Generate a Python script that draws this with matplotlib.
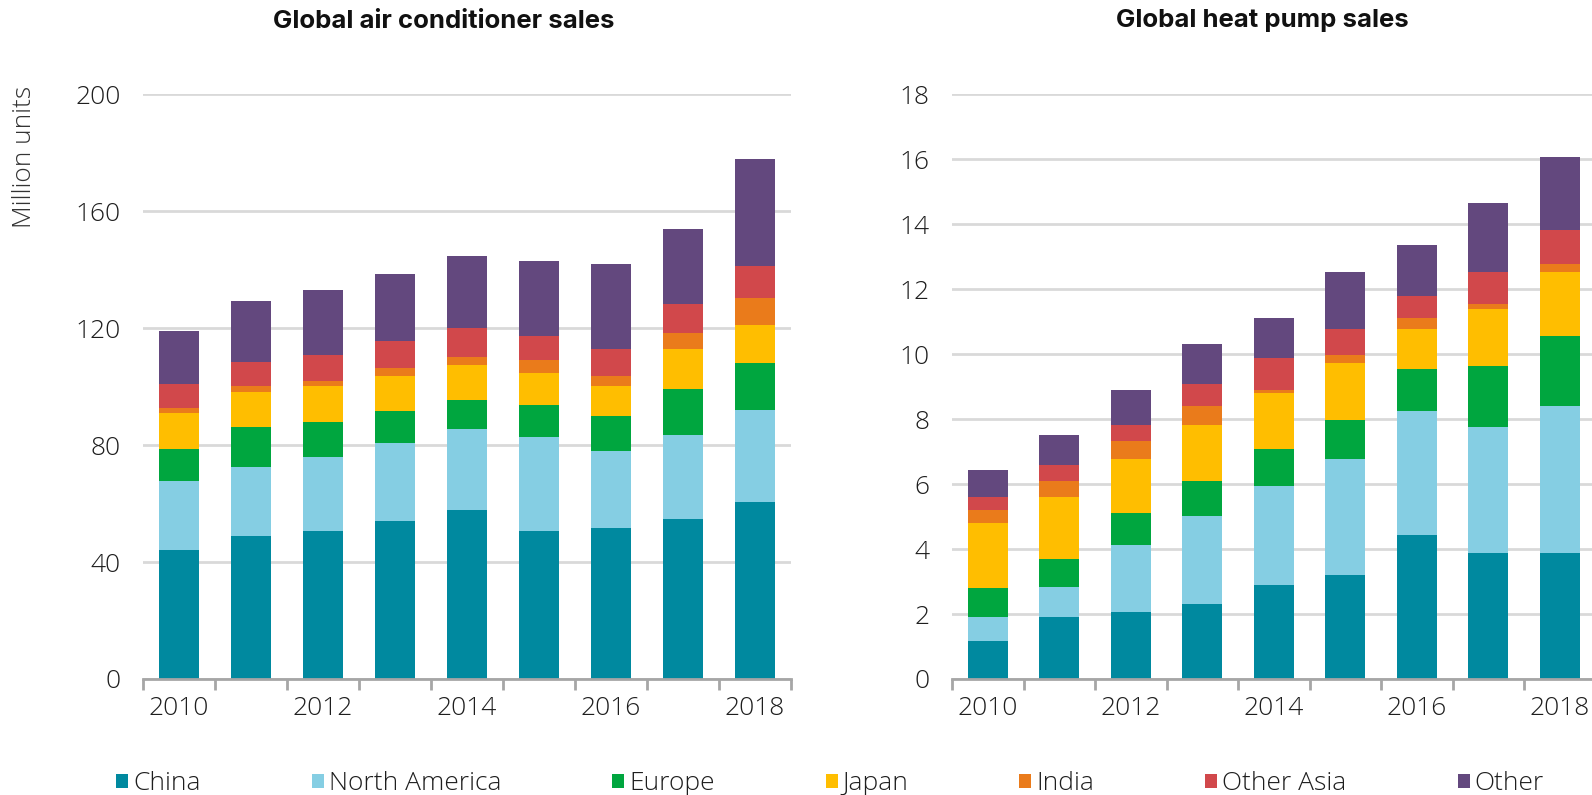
import matplotlib
matplotlib.use("Agg")
import matplotlib.pyplot as plt
from matplotlib import font_manager as fm
from matplotlib.patches import Patch
import numpy as np

years = [2010, 2011, 2012, 2013, 2014, 2015, 2016, 2017, 2018]
tick_years = ["2010", "2012", "2014", "2016", "2018"]
regions = ["China", "North America", "Europe", "Japan", "India", "Other Asia", "Other"]
colors = ["#00899F", "#85CEE3", "#00A63F", "#FFBE00", "#EA7B1B", "#D1484B", "#63487E"]

# Global air conditioner sales (million units)
ac_china = [44.0, 48.8, 50.5, 54.1, 57.7, 50.5, 51.5, 54.9, 60.6]
ac_north_america = [23.9, 23.7, 25.6, 26.7, 27.7, 32.2, 26.6, 28.7, 31.3]
ac_europe = [10.9, 13.7, 11.9, 10.9, 10.1, 10.9, 11.9, 15.5, 16.1]
ac_japan = [12.1, 12.0, 12.1, 12.0, 11.9, 11.0, 10.1, 13.8, 13.2]
ac_india = [1.7, 1.9, 1.7, 2.6, 2.7, 4.6, 3.6, 5.5, 9.2]
ac_other_asia = [8.3, 8.2, 9.2, 9.2, 10.0, 8.1, 9.2, 10.0, 10.9]
ac_other = [18.3, 21.0, 22.0, 23.0, 24.7, 25.8, 29.1, 25.6, 36.5]

# Global heat pump sales (million units)
hp_china = [1.17, 1.90, 2.06, 2.30, 2.89, 3.20, 4.44, 3.89, 3.89]
hp_north_america = [0.73, 0.92, 2.06, 2.73, 3.06, 3.57, 3.80, 3.86, 4.52]
hp_europe = [0.90, 0.89, 0.99, 1.08, 1.14, 1.21, 1.31, 1.89, 2.14]
hp_japan = [2.00, 1.90, 1.67, 1.72, 1.73, 1.75, 1.24, 1.75, 1.97]
hp_india = [0.40, 0.50, 0.55, 0.58, 0.09, 0.25, 0.34, 0.15, 0.25]
hp_other_asia = [0.41, 0.48, 0.50, 0.66, 0.96, 0.81, 0.66, 0.98, 1.07]
hp_other = [0.81, 0.91, 1.08, 1.23, 1.26, 1.73, 1.56, 2.15, 2.22]

ac_series = [ac_china, ac_north_america, ac_europe, ac_japan, ac_india, ac_other_asia, ac_other]
hp_series = [hp_china, hp_north_america, hp_europe, hp_japan, hp_india, hp_other_asia, hp_other]


def pick(cands, default="DejaVu Sans"):
    for c in cands:
        try:
            fm.findfont(fm.FontProperties(family=c), fallback_to_default=False)
            return c
        except Exception:
            pass
    return default


body_font = pick(["Open Sans", "Lato", "Roboto", "DejaVu Sans"])
title_font = pick(["Inter", "Roboto", "Lato", "DejaVu Sans"])
label_font = pick(["Open Sans", "Noto Sans", "DejaVu Sans"])

plt.rcParams["font.family"] = [body_font, "DejaVu Sans"]

W, H = 1592, 795
fig = plt.figure(figsize=(W / 100, H / 100), dpi=100)
renderer = fig.canvas.get_renderer()


def fit_size(text, target_px, family, weight="normal", base=20.0):
    t = fig.text(0, 0, text, fontsize=base, family=[family, "DejaVu Sans"], fontweight=weight)
    w = t.get_window_extent(renderer=renderer).width
    t.remove()
    return base * target_px / w


tick_fs = fit_size("North America", 172, body_font, "light")
title_fs = fit_size("Global air conditioner sales", 342, title_font, "bold")
ylab_fs = fit_size("Million units", 142, label_font, "light")

ax1 = fig.add_axes([143 / W, 116 / H, 648 / W, 584.6 / H])
ax2 = fig.add_axes([952 / W, 116 / H, 643.5 / W, 584.6 / H])

x = np.arange(len(years))
grid_c = "#D9D9D9"
axis_c = "#A6A6A6"
text_c = "#1E1E1E"

for ax, series, ymax, step in [
    (ax1, ac_series, 200, 40),
    (ax2, hp_series, 18, 2),
]:
    bottom = np.zeros(len(years))
    for vals, col, name in zip(series, colors, regions):
        v = np.array(vals)
        ax.bar(x, v, width=0.56, bottom=bottom, color=col, label=name, zorder=3)
        bottom += v
    ax.set_xlim(-0.5, len(years) - 0.5)
    ax.set_ylim(0, ymax)
    yt = np.arange(0, ymax + 0.001, step)
    ax.set_yticks(yt)
    ax.set_yticklabels([f"{int(t)}" for t in yt], fontsize=tick_fs, fontweight="light", color=text_c)
    ax.yaxis.grid(True, color=grid_c, linewidth=2, zorder=0)
    ax.set_axisbelow(True)
    for s in ["left", "right", "top"]:
        ax.spines[s].set_visible(False)
    ax.spines["bottom"].set_color(axis_c)
    ax.spines["bottom"].set_linewidth(2)
    ax.spines["bottom"].set_zorder(4)
    ax.tick_params(axis="y", length=0, pad=16)
    ax.set_xticks(np.arange(-0.5, len(years), 1.0))
    ax.set_xticklabels([])
    ax.tick_params(axis="x", which="major", length=8, width=2, color=axis_c)
    ax.set_xticks(x[::2], minor=True)
    ax.set_xticklabels(tick_years, minor=True, fontsize=tick_fs, fontweight="light", color=text_c)
    ax.tick_params(axis="x", which="minor", length=0, pad=12)

fig.text(444 / W, 1 - 21 / H, "Global air conditioner sales", ha="center", va="center",
         fontsize=title_fs, fontweight="bold", family=[title_font, "DejaVu Sans"], color="#111111")
fig.text(1262 / W, 1 - 21 / H, "Global heat pump sales", ha="center", va="center",
         fontsize=title_fs, fontweight="bold", family=[title_font, "DejaVu Sans"], color="#111111")

fig.text(25 / W, 1 - 157 / H, "Million units", rotation=90, ha="center", va="center",
         fontsize=ylab_fs, fontweight="light", family=[label_font, "DejaVu Sans"], color="#333333")

fs_px = tick_fs * 100 / 72
handles = [Patch(facecolor=c, edgecolor="none", label=r) for c, r in zip(colors, regions)]
leg = fig.legend(handles=handles, loc="center", bbox_to_anchor=(830 / W, 1 - 784 / H),
                 ncol=7, frameon=False, prop={"family": [body_font, "DejaVu Sans"], "size": tick_fs, "weight": "light"},
                 handlelength=12 / fs_px, handleheight=12 / fs_px,
                 handletextpad=5 / fs_px, columnspacing=111 / fs_px, borderaxespad=0, borderpad=0)
for t in leg.get_texts():
    t.set_color(text_c)

fig.savefig("out.png", dpi=100)
